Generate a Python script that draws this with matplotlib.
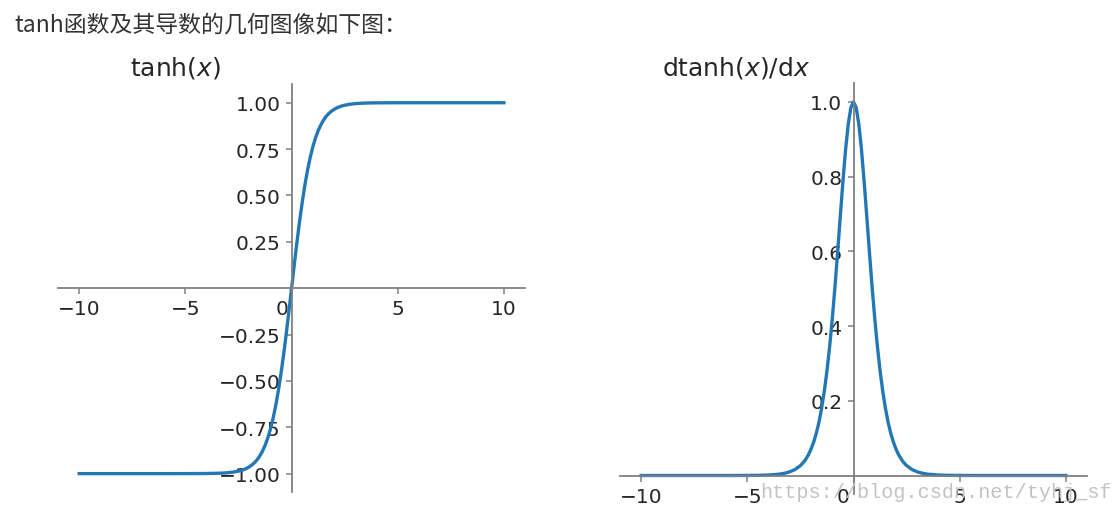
import matplotlib
matplotlib.use("Agg")
import matplotlib.pyplot as plt
import matplotlib.transforms as mtransforms

# values
x_vals = [-10, -6, -5, -4.5, -4, -3.5, -3.25, -3, -2.75, -2.5, -2.375, -2.25, -2.125, -2,
          -1.875, -1.75, -1.625, -1.5, -1.375, -1.25, -1.125,
          -1, -0.875, -0.75, -0.625, -0.5, -0.375, -0.25, -0.125, 0,
          0.125, 0.25, 0.375, 0.5, 0.625, 0.75, 0.875, 1,
          1.125, 1.25, 1.375, 1.5, 1.625, 1.75, 1.875,
          2, 2.125, 2.25, 2.375, 2.5, 2.75, 3, 3.25, 3.5, 4, 4.5, 5, 6, 10]
tanh_vals = [-1.0, -1.0, -0.9999, -0.9998, -0.9993, -0.9982, -0.997, -0.9951, -0.9919,
             -0.9866, -0.9828, -0.978, -0.9719, -0.964, -0.954, -0.9414, -0.9257,
             -0.9051, -0.8798, -0.8483, -0.8093,
             -0.7616, -0.7039, -0.6351, -0.5546, -0.4621, -0.3584, -0.2449, -0.1244, 0.0,
             0.1244, 0.2449, 0.3584, 0.4621, 0.5546, 0.6351, 0.7039, 0.7616,
             0.8093, 0.8483, 0.8798, 0.9051, 0.9257, 0.9414, 0.954,
             0.964, 0.9719, 0.978, 0.9828, 0.9866, 0.9919, 0.9951, 0.997, 0.9982,
             0.9993, 0.9998, 0.9999, 1.0, 1.0]
dtanh_vals = [0.0, 0.0, 0.0002, 0.0005, 0.0013, 0.0036, 0.006, 0.0099, 0.0162,
              0.0266, 0.0341, 0.0435, 0.0555, 0.0707, 0.0899, 0.1138, 0.1432,
              0.1808, 0.226, 0.2804, 0.345,
              0.42, 0.5045, 0.5966, 0.6924, 0.7864, 0.8716, 0.94, 0.9845, 1.0,
              0.9845, 0.94, 0.8716, 0.7864, 0.6924, 0.5966, 0.5045, 0.42,
              0.345, 0.2804, 0.226, 0.1808, 0.1432, 0.1138, 0.0899,
              0.0707, 0.0555, 0.0435, 0.0341, 0.0266, 0.0162, 0.0099, 0.006, 0.0036,
              0.0013, 0.0005, 0.0002, 0.0, 0.0]

x_ticks = [-10, -5, 0, 5, 10]
x_ticklabels = ["\u221210", "\u22125", "0", "5", "10"]
tanh_yticks = [-1.0, -0.75, -0.5, -0.25, 0.25, 0.5, 0.75, 1.0]
dtanh_yticks = [0.2, 0.4, 0.6, 0.8, 1.0]

caption = "tanh函数及其导数的几何图像如下图："
watermark = "https://blog.csdn.net/tyhj_sf"

LINE = "#2278b5"
SPINE = "#808080"
TXT = "#262626"


def _centered_axes(ax, yticks, fmt):
    ax.spines["top"].set_visible(False)
    ax.spines["right"].set_visible(False)
    for s in ("left", "bottom"):
        ax.spines[s].set_position(("data", 0))
        ax.spines[s].set_color(SPINE)
        ax.spines[s].set_linewidth(1.3)
    ax.set_xticks(x_ticks)
    ax.set_xticklabels(x_ticklabels)
    ax.set_yticks(yticks)
    ax.set_yticklabels([(fmt % v).replace("-", "\u2212") for v in yticks])
    ax.tick_params(colors=SPINE, labelcolor=TXT, labelsize=14.5, length=4, width=1.1, pad=4)
    ax.patch.set_visible(False)
    # the "0" x label sits just left of the vertical axis
    off = mtransforms.ScaledTranslation(-10 / 100, 0, ax.figure.dpi_scale_trans)
    for lab in ax.get_xticklabels():
        if lab.get_text() == "0":
            lab.set_transform(lab.get_transform() + off)


fig = plt.figure(figsize=(11.15, 5.1), dpi=100)

ax1 = fig.add_axes([0.052, 0.033, 0.419, 0.80])
ax1.plot(x_vals, tanh_vals, color=LINE, lw=2.4)
ax1.set_xlim(-11, 11)
ax1.set_ylim(-1.1, 1.1)
_centered_axes(ax1, tanh_yticks, "%.2f")

ax2 = fig.add_axes([0.556, 0.029, 0.419, 0.806])
ax2.plot(x_vals, dtanh_vals, color=LINE, lw=2.4)
ax2.set_xlim(-11, 11)
ax2.set_ylim(-0.05, 1.05)
_centered_axes(ax2, dtanh_yticks, "%.1f")

fig.text(175 / 1115, 1 - 68 / 510, r"tanh($x$)", fontsize=18, color=TXT,
         ha="center", va="center")
fig.text(736 / 1115, 1 - 68 / 510, r"dtanh($x$)/d$x$", fontsize=18, color=TXT,
         ha="center", va="center")

fig.text(14 / 1115, 1 - 25 / 510, caption, fontsize=16.5, color="#333333",
         ha="left", va="center", family=["Noto Sans CJK SC", "DejaVu Sans"])

fig.text(760 / 1115, 1 - 493 / 510, watermark, fontsize=14.5, color="#c2c2c2",
         ha="left", va="center", family="Liberation Mono", zorder=10)

fig.savefig("out.png", dpi=100)
